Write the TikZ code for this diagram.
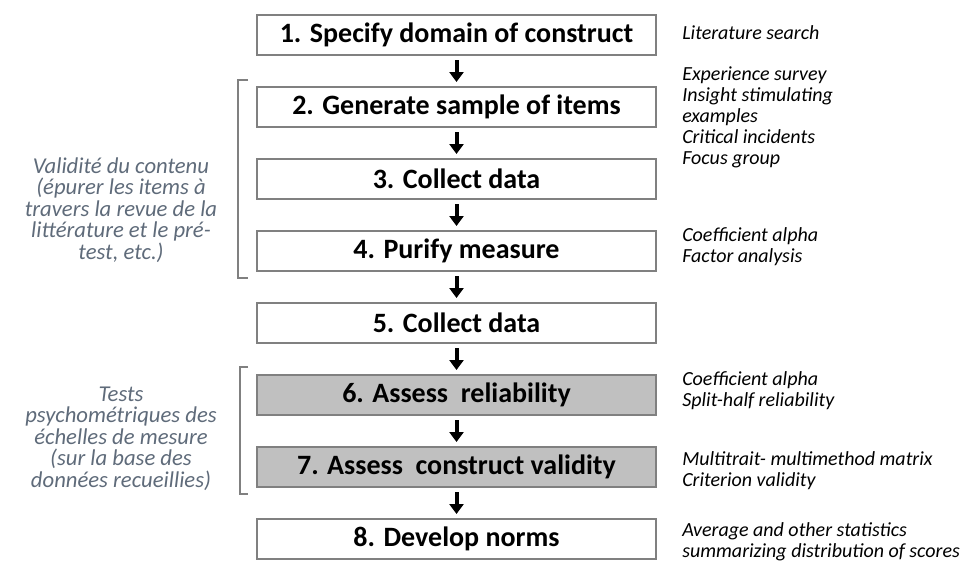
\documentclass[tikz,border=0pt]{standalone}
\usepackage{fontspec}
\setmainfont{Carlito}
\usepackage{xcolor}
\usepackage{tikz}
\usetikzlibrary{arrows.meta}

\definecolor{boxline}{RGB}{128,128,128}
\definecolor{boxgray}{RGB}{192,192,192}
\definecolor{slate}{RGB}{95,107,122}

\tikzset{
  stagebox/.style={draw=boxline, line width=1.5pt, minimum width=299pt, minimum height=30pt,
    inner sep=0pt, font=\fontsize{21}{24}\selectfont\bfseries},
  shadedbox/.style={stagebox, fill=boxgray},
  notetext/.style={anchor=west, align=left, inner sep=0pt,
    font=\fontsize{15}{15.75}\selectfont\itshape},
  sidetext/.style={align=center, inner sep=0pt, text=slate,
    font=\fontsize{17}{16.1}\selectfont\itshape},
  flowarrow/.style={line width=3pt, -{Triangle[width=10.5pt,length=7.5pt]},
    shorten <=3pt, shorten >=3pt},
  brace/.style={draw=boxline, line width=1.5pt}
}

\begin{document}
\begin{tikzpicture}[x=0.75pt,y=-0.75pt]
\useasboundingbox (0,0) rectangle (973,561);

% Stages of the procedure
\node[stagebox] (s1) at (456.5,35) {1. Specify domain of construct};
\node[stagebox] (s2) at (456.5,107) {2. Generate sample of items};
\node[stagebox] (s3) at (456.5,179) {3. Collect data};
\node[stagebox] (s4) at (456.5,251) {4. Purify measure};
\node[stagebox] (s5) at (456.5,323) {5. Collect data};
\node[shadedbox] (s6) at (456.5,395) {6. Assess\ \ reliability};
\node[shadedbox] (s7) at (456.5,467) {7. Assess\ \ construct validity};
\node[stagebox] (s8) at (456.5,539) {8. Develop norms};

% Arrows between stages
\foreach \i [remember=\i as \prev (initially 1)] in {2,...,8}
  \draw[flowarrow] (s\prev.south) -- (s\i.north);

% Notes on the right
\node[notetext] (n1) at (682,33) {Literature search};
\node[notetext] (n2) at (682,117) {Experience survey\\Insight stimulating\\examples\\Critical incidents\\Focus group};
\node[notetext] (n4) at (682,246.5) {Coefficient alpha\\Factor analysis};
\node[notetext] (n6) at (682,391) {Coefficient alpha\\Split-half reliability};
\node[notetext] (n7) at (682,471) {Multitrait- multimethod matrix\\Criterion validity};
\node[notetext] (n8) at (682,542) {Average and other statistics\\summarizing distribution of scores};

% Brackets and side labels
\coordinate (b1t) at (248,80);
\coordinate (b1b) at (248,278);
\draw[brace] (b1t) -- (238,80) -- (238,278) -- (b1b);
\node[sidetext] (v1) at (121,210) {Validité du contenu\\(épurer les items à\\travers la revue de la\\littérature et le pré-\\test, etc.)};

\coordinate (b2t) at (248,367);
\coordinate (b2b) at (248,494);
\draw[brace] (b2t) -- (240,367) -- (240,494) -- (b2b);
\node[sidetext] (v2) at (121,438.5) {Tests\\psychométriques des\\échelles de mesure\\(sur la base des\\données recueillies)};

\end{tikzpicture}
\end{document}
